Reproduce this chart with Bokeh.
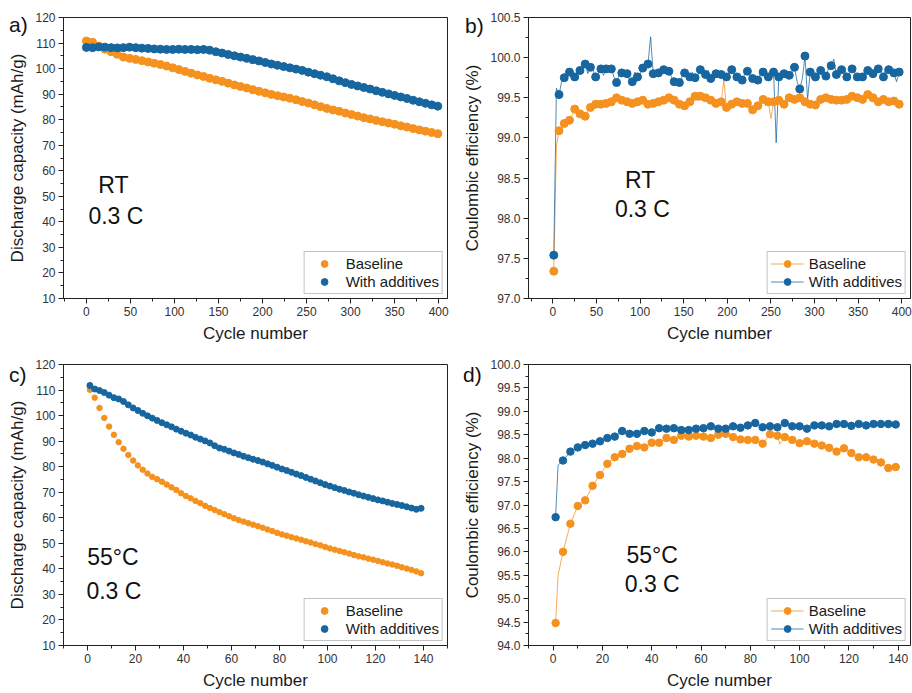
from bokeh.plotting import figure
from bokeh.models import (Range1d, Label, Legend, LegendItem, SingleIntervalTicker,
                          PrintfTickFormatter, GridBox, Div)
from bokeh.embed import file_html
from bokeh.resources import INLINE

# ---------------- data ----------------
# a) RT discharge capacity (mAh/g)
a_cycles = list(range(0, 400, 7))
a_baseline = [110.8, 110.3, 108.8, 107.6, 106.6, 105.6, 104.5, 104.0, 103.6, 103.1,
              102.6, 102.1, 101.6, 101.0, 100.3, 99.6, 98.9, 98.2, 97.5, 96.9,
              96.2, 95.6, 95.0, 94.3, 93.6, 93.0, 92.4, 91.7, 91.1, 90.5,
              89.9, 89.4, 88.9, 88.4, 87.8, 87.1, 86.5, 85.8, 85.1, 84.4,
              83.8, 83.3, 82.6, 82.0, 81.4, 80.8, 80.3, 79.7, 79.2, 78.7,
              78.2, 77.6, 77.1, 76.5, 76.0, 75.5, 75.0, 74.5]
a_additives = [108.3, 108.2, 108.5, 108.4, 108.2, 108.1, 108.2, 108.4, 108.2, 108.0,
               107.9, 107.7, 107.6, 107.5, 107.5, 107.6, 107.5, 107.5, 107.4, 107.5,
               107.2, 106.6, 106.1, 105.5, 105.0, 104.5, 104.0, 103.5, 103.0, 102.4,
               101.8, 101.3, 100.8, 100.3, 99.8, 99.3, 98.6, 98.0, 97.4, 96.8,
               96.0, 95.2, 94.5, 93.8, 93.2, 92.6, 92.0, 91.3, 90.7, 90.1,
               89.5, 88.9, 88.3, 87.6, 87.0, 86.4, 85.8, 85.3]

# b) RT coulombic efficiency (%) - marker cycles and in-between line cycles
b_cycles = list(range(1, 398, 6))
b_baseline = [97.34, 99.09, 99.18, 99.22, 99.36, 99.30, 99.27, 99.38, 99.42, 99.42,
              99.43, 99.45, 99.50, 99.47, 99.45, 99.43, 99.45, 99.47, 99.42, 99.43,
              99.45, 99.47, 99.50, 99.47, 99.42, 99.40, 99.45, 99.52, 99.52, 99.50,
              99.47, 99.43, 99.45, 99.38, 99.42, 99.45, 99.43, 99.43, 99.35, 99.40,
              99.48, 99.45, 99.45, 99.47, 99.42, 99.50, 99.48, 99.50, 99.45, 99.42,
              99.41, 99.48, 99.50, 99.48, 99.47, 99.47, 99.48, 99.52, 99.50, 99.48,
              99.54, 99.50, 99.45, 99.48, 99.45, 99.46, 99.42]
b_additives = [97.54, 99.54, 99.75, 99.82, 99.76, 99.84, 99.92, 99.88, 99.76, 99.86,
               99.86, 99.86, 99.69, 99.81, 99.80, 99.70, 99.76, 99.87, 99.92, 99.80,
               99.81, 99.85, 99.83, 99.70, 99.69, 99.81, 99.76, 99.75, 99.85, 99.79,
               99.74, 99.80, 99.79, 99.76, 99.85, 99.76, 99.72, 99.83, 99.74, 99.72,
               99.82, 99.76, 99.82, 99.76, 99.80, 99.78, 99.88, 99.61, 100.02, 99.82,
               99.76, 99.84, 99.77, 99.90, 99.79, 99.85, 99.76, 99.86, 99.76, 99.76,
               99.84, 99.80, 99.86, 99.76, 99.85, 99.81, 99.82]
b_mid_cycles = list(range(4, 395, 6))
b_baseline_mid = [98.90, 99.12, 99.20, 99.28, 99.32, 99.26, 99.34, 99.40, 99.44, 99.40,
                  99.46, 99.48, 99.46, 99.44, 99.46, 99.44, 99.46, 99.44, 99.46, 99.42,
                  99.48, 99.44, 99.50, 99.44, 99.42, 99.44, 99.50, 99.46, 99.54, 99.46,
                  99.46, 99.44, 99.72, 99.40, 99.44, 99.46, 99.44, 99.40, 99.32, 99.44,
                  99.40, 99.24, 99.46, 99.44, 99.46, 99.48, 99.46, 99.50, 99.44, 99.46,
                  99.46, 99.50, 99.48, 99.50, 99.46, 99.50, 99.48, 99.50, 99.52, 99.50,
                  99.48, 99.47, 99.46, 99.48, 99.44, 99.46]
b_additives_mid = [99.62, 99.70, 99.80, 99.72, 99.80, 99.86, 99.80, 99.84, 99.80, 99.78,
                   99.84, 99.76, 99.78, 99.84, 99.72, 99.82, 99.80, 99.84, 100.26, 99.78,
                   99.84, 99.80, 99.76, 99.72, 99.76, 99.78, 99.82, 99.78, 99.80, 99.84,
                   99.76, 99.82, 99.74, 99.80, 99.82, 99.76, 99.80, 99.78, 99.76, 99.80,
                   99.76, 99.80, 98.94, 99.80, 99.76, 99.82, 99.70, 99.74, 99.48, 99.80,
                   99.82, 99.78, 99.86, 99.98, 99.80, 99.86, 99.80, 99.82, 99.78, 99.84,
                   99.82, 99.80, 99.84, 99.88, 99.80, 99.70]

# c) 55 C discharge capacity (mAh/g)
c_cycles = list(range(1, 140, 2))
c_baseline = [110.1, 107.0, 103.0, 99.1, 95.7, 92.5, 89.6, 87.0, 84.6, 82.4,
              80.5, 78.8, 77.3, 76.0, 75.1, 74.1, 73.0, 71.9, 70.9, 69.6,
              68.5, 67.6, 66.6, 65.7, 64.7, 63.8, 63.0, 62.2, 61.4, 60.6,
              59.8, 59.1, 58.5, 57.9, 57.3, 56.7, 56.1, 55.4, 54.8, 54.1,
              53.5, 53.0, 52.4, 51.9, 51.4, 50.8, 50.3, 49.7, 49.2, 48.6,
              48.0, 47.5, 47.0, 46.5, 46.0, 45.4, 44.9, 44.5, 44.0, 43.6,
              43.1, 42.6, 42.1, 41.7, 41.2, 40.6, 40.1, 39.6, 39.0, 38.3]
c_additives = [111.8, 110.4, 109.8, 109.0, 108.0, 107.0, 106.5, 105.5, 104.2, 103.0,
               102.0, 100.9, 99.9, 99.0, 98.1, 97.2, 96.4, 95.6, 94.7, 93.9,
               93.1, 92.4, 91.5, 90.8, 90.1, 89.3, 88.2, 87.3, 86.8, 86.1,
               85.4, 84.8, 84.1, 83.5, 82.9, 82.4, 81.8, 81.1, 80.5, 79.8,
               79.1, 78.5, 77.8, 77.1, 76.5, 75.8, 75.1, 74.4, 73.7, 73.0,
               72.4, 71.8, 71.2, 70.7, 70.1, 69.6, 69.0, 68.5, 68.0, 67.5,
               67.0, 66.6, 66.1, 65.6, 65.2, 64.8, 64.3, 63.8, 63.3, 63.7]

# d) 55 C coulombic efficiency (%)
d_cycles = list(range(1, 140, 3))
d_baseline = [94.48, 96.00, 96.60, 96.98, 97.10, 97.41, 97.64, 97.88, 98.02, 98.09,
              98.20, 98.26, 98.23, 98.33, 98.33, 98.43, 98.39, 98.48, 98.46, 98.48,
              98.46, 98.43, 98.50, 98.52, 98.45, 98.40, 98.39, 98.39, 98.31, 98.51,
              98.48, 98.45, 98.39, 98.32, 98.36, 98.31, 98.27, 98.22, 98.14, 98.21,
              98.11, 98.02, 98.02, 97.97, 97.91, 97.79, 97.81]
d_additives = [96.74, 97.95, 98.14, 98.23, 98.28, 98.31, 98.36, 98.43, 98.46, 98.58,
               98.52, 98.52, 98.58, 98.55, 98.64, 98.63, 98.64, 98.60, 98.60, 98.63,
               98.64, 98.68, 98.63, 98.63, 98.68, 98.65, 98.70, 98.75, 98.66, 98.68,
               98.66, 98.75, 98.68, 98.68, 98.63, 98.70, 98.70, 98.68, 98.73, 98.73,
               98.69, 98.73, 98.70, 98.73, 98.73, 98.73, 98.72]
d_baseline_extra_cycles = [2, 92]
d_baseline_extra = [95.50, 98.30]
d_additives_extra_cycles = [2]
d_additives_extra = [97.85]

series_names = ["Baseline", "With additives"]
panel_letters = ["a)", "b)", "c)", "d)"]

for xs, ys in [(a_cycles, a_baseline), (a_cycles, a_additives), (b_cycles, b_baseline),
               (b_cycles, b_additives), (b_mid_cycles, b_baseline_mid), (b_mid_cycles, b_additives_mid),
               (c_cycles, c_baseline), (c_cycles, c_additives), (d_cycles, d_baseline),
               (d_cycles, d_additives)]:
    assert len(xs) == len(ys), (len(xs), len(ys))

# ---------------- style ----------------
ORANGE = "#F5911F"
BLUE = "#17669F"
FONT = "Liberation Sans"
TXT = "#1a1a1a"


def merged(x1, y1, x2, y2):
    pts = sorted(zip(list(x1) + list(x2), list(y1) + list(y2)))
    return [p[0] for p in pts], [p[1] for p in pts]


def panel(width, height, xr, yr, borders, ylabel, xint, yint, yfmt=None):
    bl, br, bt, bb = borders
    p = figure(width=width, height=height, x_range=Range1d(*xr), y_range=Range1d(*yr),
               output_backend="svg", toolbar_location=None,
               min_border_left=bl, min_border_right=br, min_border_top=bt, min_border_bottom=bb,
               x_axis_label="Cycle number", y_axis_label=ylabel)
    p.xgrid.visible = False
    p.ygrid.visible = False
    p.border_fill_alpha = 0
    p.outline_line_color = "#222222"
    p.outline_line_width = 1
    p.outline_line_alpha = 1
    p.xaxis.ticker = SingleIntervalTicker(interval=xint, num_minor_ticks=2)
    p.yaxis.ticker = SingleIntervalTicker(interval=yint, num_minor_ticks=2)
    if yfmt:
        p.yaxis.formatter = PrintfTickFormatter(format=yfmt)
    for ax in (p.xaxis[0], p.yaxis[0]):
        ax.major_tick_out = 5
        ax.major_tick_in = 0
        ax.minor_tick_out = 3
        ax.minor_tick_in = 0
        ax.axis_line_color = "#222222"
        ax.major_tick_line_color = "#222222"
        ax.minor_tick_line_color = "#222222"
        ax.major_label_text_font = FONT
        ax.major_label_text_font_size = "12px"
        ax.major_label_text_color = "#333333"
        ax.major_label_standoff = 3
        ax.axis_label_text_font = FONT
        ax.axis_label_text_font_size = "17px"
        ax.axis_label_text_font_style = "normal"
        ax.axis_label_text_color = TXT
        ax.axis_label_standoff = 5
    return p


def add_legend(p, items):
    leg = Legend(items=[LegendItem(label=lab, renderers=rs) for lab, rs in items],
                 location="bottom_right", margin=4, padding=3, spacing=1,
                 label_height=17, glyph_height=17, glyph_width=33, label_standoff=5,
                 border_line_color="#888888", border_line_width=1,
                 background_fill_color="white", background_fill_alpha=1,
                 label_text_font=FONT, label_text_font_size="15px", label_text_color=TXT)
    p.add_layout(leg)


def add_text(p, x, y, text):
    p.add_layout(Label(x=x, y=y, text=text, text_align="center", text_baseline="middle",
                       text_font=FONT, text_font_size="23px", text_color="#111111"))


def letter_div(text, top, left):
    html = ('<span style="font-family:\'Liberation Sans\',Arial,sans-serif;font-size:21px;'
            'color:#111111;line-height:24px;white-space:nowrap">%s</span>' % text)
    return Div(text=html, width=30, height=26, margin=(top, 0, 0, left), align="start")


W1, W2 = 455, 457
H1, H2 = 346, 347

# ---- a ----
pa = panel(W1, H1, (-26, 410), (10, 120), (63, 8, 17, 48),
           "Discharge capacity (mAh/g)", 50, 10)
ra1 = pa.scatter(a_cycles, a_baseline, size=8, fill_color=ORANGE, line_color=ORANGE)
ra2 = pa.scatter(a_cycles, a_additives, size=8, fill_color=BLUE, line_color=BLUE)
add_legend(pa, [(series_names[0], [ra1]), (series_names[1], [ra2])])
add_text(pa, 30.7, 54.6, "RT")
add_text(pa, 33.5, 42.1, "0.3 C")

# ---- b ----
pb = panel(W2, H1, (-28, 410), (97.0, 100.5), (73, 2, 17, 48),
           "Coulombic efficiency (%)", 50, 0.5, "%.1f")
bx1, by1 = merged(b_cycles, b_baseline, b_mid_cycles, b_baseline_mid)
bx2, by2 = merged(b_cycles, b_additives, b_mid_cycles, b_additives_mid)
lb1 = pb.line(bx1, by1, line_color=ORANGE, line_width=1, line_alpha=0.75)
lb2 = pb.line(bx2, by2, line_color=BLUE, line_width=1, line_alpha=0.75)
rb1 = pb.scatter(b_cycles, b_baseline, size=8, fill_color=ORANGE, line_color=ORANGE)
rb2 = pb.scatter(b_cycles, b_additives, size=8, fill_color=BLUE, line_color=BLUE)
add_legend(pb, [(series_names[0], [lb1, rb1]), (series_names[1], [lb2, rb2])])
add_text(pb, 100, 98.47, "RT")
add_text(pb, 102.6, 98.11, "0.3 C")

# ---- c ----
pc = panel(W1, H2, (-10, 150), (10, 120), (63, 8, 18, 48),
           "Discharge capacity (mAh/g)", 20, 10)
rc1 = pc.scatter(c_cycles, c_baseline, size=5.5, fill_color=ORANGE, line_color=ORANGE)
rc2 = pc.scatter(c_cycles, c_additives, size=6, fill_color=BLUE, line_color=BLUE)
add_legend(pc, [(series_names[0], [rc1]), (series_names[1], [rc2])])
add_text(pc, 10.6, 44.6, "55°C")
add_text(pc, 11.0, 31.3, "0.3 C")

# ---- d ----
pd_ = panel(W2, H2, (-10, 145), (94.0, 100.0), (73, 2, 18, 48),
            "Coulombic efficiency (%)", 20, 0.5, "%.1f")
dx1, dy1 = merged(d_cycles, d_baseline, d_baseline_extra_cycles, d_baseline_extra)
dx2, dy2 = merged(d_cycles, d_additives, d_additives_extra_cycles, d_additives_extra)
ld1 = pd_.line(dx1, dy1, line_color=ORANGE, line_width=1, line_alpha=0.75)
ld2 = pd_.line(dx2, dy2, line_color=BLUE, line_width=1, line_alpha=0.75)
rd1 = pd_.scatter(d_cycles, d_baseline, size=7.5, fill_color=ORANGE, line_color=ORANGE)
rd2 = pd_.scatter(d_cycles, d_additives, size=7.5, fill_color=BLUE, line_color=BLUE)
add_legend(pd_, [(series_names[0], [ld1, rd1]), (series_names[1], [ld2, rd2])])
add_text(pd_, 40.2, 95.94, "55°C")
add_text(pd_, 40.2, 95.32, "0.3 C")

grid = GridBox(children=[
    (pa, 0, 0), (pb, 0, 1), (pc, 1, 0), (pd_, 1, 1),
    (letter_div(panel_letters[0], 13, 9), 0, 0),
    (letter_div(panel_letters[1], 14, 10), 0, 1),
    (letter_div(panel_letters[2], 17, 9), 1, 0),
    (letter_div(panel_letters[3], 17, 8), 1, 1),
], spacing=0)

open("out.html", "w").write(file_html(grid, INLINE))
